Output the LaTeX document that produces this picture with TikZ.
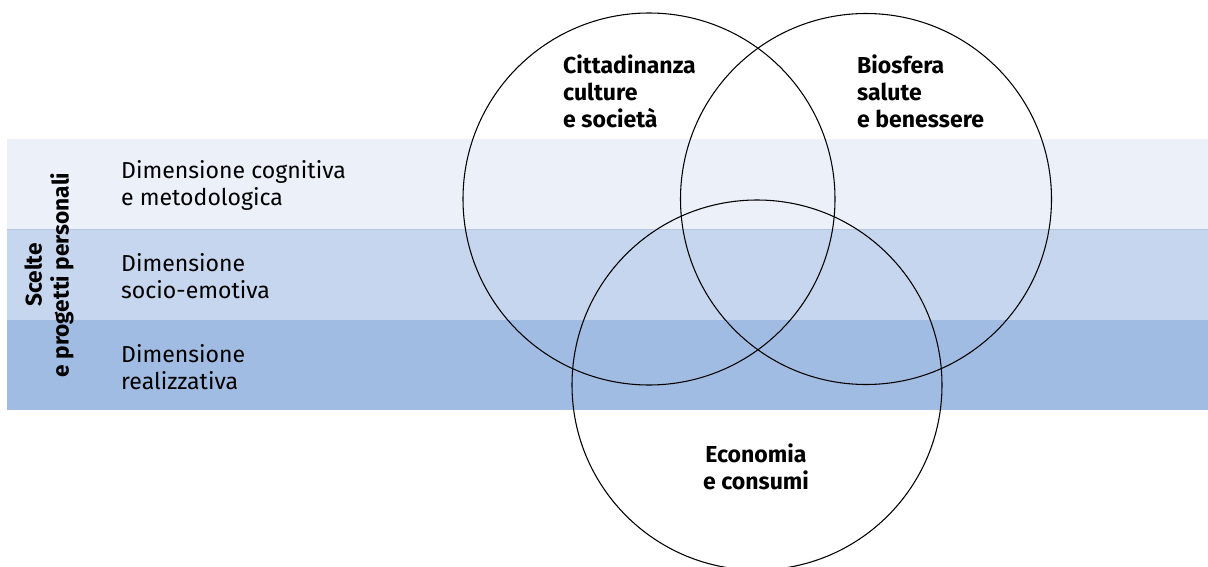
\documentclass[tikz,border=0pt]{standalone}
\usepackage{fontspec}
\setmainfont{Fira Sans}
\definecolor{bandA}{HTML}{EBF0F9}
\definecolor{bandB}{HTML}{C6D6EE}
\definecolor{bandC}{HTML}{A0BCE3}
\definecolor{bandline}{HTML}{B4C6E2}
\tikzset{
  dimtext/.style={anchor=west, align=left, font=\fontsize{17.3}{20.3}\selectfont},
  settore/.style={align=left, font=\bfseries\fontsize{17.3}{20.3}\selectfont},
  cerchio/.style={draw=black, line width=0.8pt}
}
\begin{document}
\begin{tikzpicture}[x=0.75pt,y=-0.75pt]
        \useasboundingbox (0,0) rectangle (1208,567);
        \clip (0,0) rectangle (1208,567);
        % fasce
        \fill[bandA] (7,139) rectangle (1208,229);
        \fill[bandB] (7,229) rectangle (1208,320);
        \fill[bandC] (7,320) rectangle (1208,410);
        \draw[bandline, line width=0.6pt] (7,229) -- (1208,229);
        \node[dimtext] (cogn) at (116.5,185) {Dimensione cognitiva\\e metodologica};
        \node[dimtext] (socio) at (116.5,276) {Dimensione\\socio-emotiva};
        \node[dimtext] (real) at (116.5,367) {Dimensione\\realizzativa};
        \node[rotate=90, align=center, font=\bfseries\fontsize{17}{20.3}\selectfont] (scelte) at (49,275) {Scelte\\e progetti personali};
        % cerchi
        \draw[cerchio] (649,199) circle (186);
        \draw[cerchio] (866,199) circle (185.5);
        \draw[cerchio] (757,385) circle (185);
        \node[settore, anchor=north west] (citt) at (558.5,50) {Cittadinanza\\culture\\e società};
        \node[settore, anchor=north west] (bios) at (852.5,50) {Biosfera\\salute\\e benessere};
        \node[settore, align=center] (econ) at (756,467) {Economia\\e consumi};
\end{tikzpicture}
\end{document}
